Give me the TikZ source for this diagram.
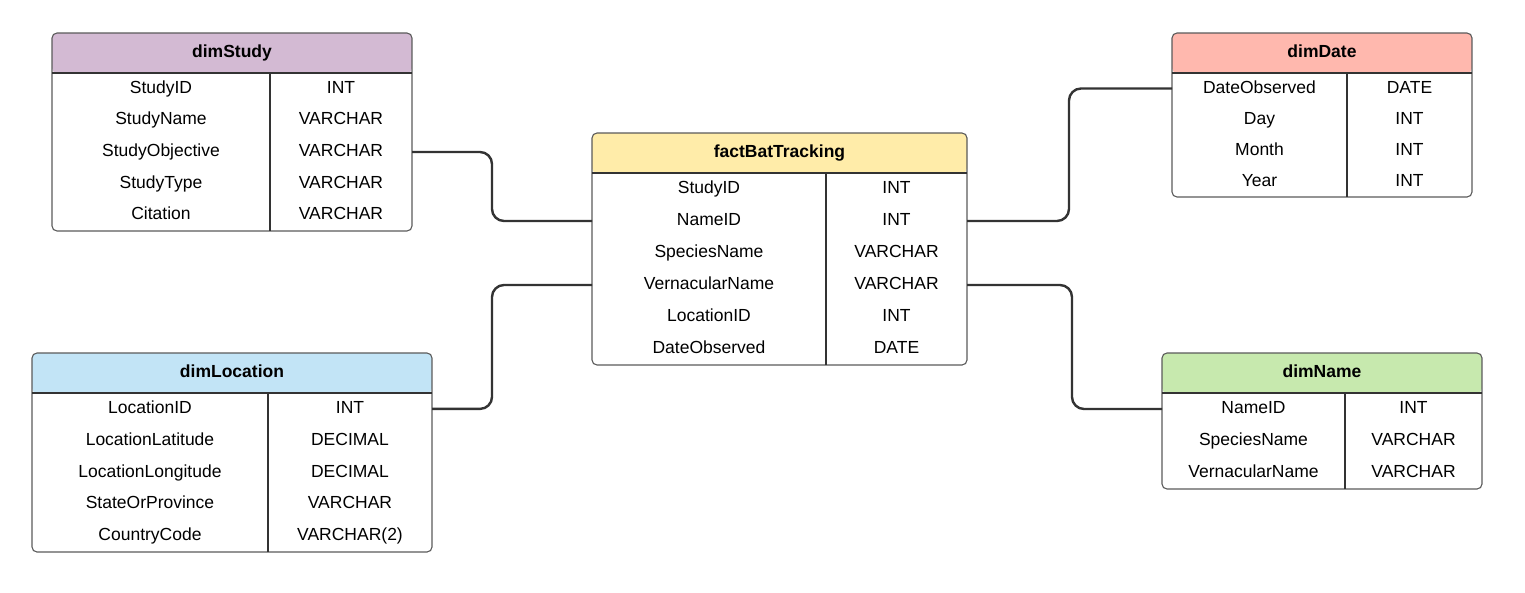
\documentclass[tikz,border=0pt]{standalone}
\usepackage{fontspec}
\setmainfont{Liberation Sans}
\usepackage{xcolor}
\usetikzlibrary{positioning}

\definecolor{studycol}{HTML}{D3BAD3}
\definecolor{datecol}{HTML}{FFB8AE}
\definecolor{factcol}{HTML}{FFECA9}
\definecolor{loccol}{HTML}{C2E4F6}
\definecolor{namecol}{HTML}{C7E9AE}
\definecolor{tblline}{HTML}{5A5A5A}
\definecolor{linkcol}{HTML}{333333}

\begin{document}
\begin{tikzpicture}[x=1pt,y=-1pt,font=\fontsize{17.5}{20}\selectfont]
  \tikzstyle{tbl}=[draw=tblline,line width=1.1pt,rounded corners=5pt,inner sep=0pt,outer sep=0pt,anchor=north west]
  \tikzstyle{cell}=[inner sep=0pt,text height=12.5pt,text depth=3.5pt]
  \tikzstyle{title}=[cell,font=\fontsize{17.5}{20}\selectfont\bfseries]
  \tikzstyle{rule}=[draw=linkcol,line width=1.1pt]
  \tikzstyle{link}=[draw=linkcol,line width=2.4pt,rounded corners=12pt]
  \useasboundingbox (0,0) rectangle (1525,592);

  % dimStudy
  \node[tbl,minimum width=360pt,minimum height=198pt,
    path picture={\fill[studycol] (path picture bounding box.north west) rectangle ([yshift=-40pt]path picture bounding box.north east);}]
    (study) at (52,33) {};
  \draw[rule] (52,73) -- (412,73);
  \draw[rule] (270,73) -- (270,231);
  \node[title] (studyhead) at (232,53) {dimStudy};
  \foreach \f/\t [count=\i] in {StudyID/INT,StudyName/VARCHAR,StudyObjective/VARCHAR,StudyType/VARCHAR,Citation/VARCHAR}{
    \node[cell] (st\i) at (161,{73+31.6*(\i-0.5)}) {\f};
    \node[cell] (stt\i) at (341,{73+31.6*(\i-0.5)}) {\t};
  }

  % factBatTracking
  \node[tbl,minimum width=375pt,minimum height=232pt,
    path picture={\fill[factcol] (path picture bounding box.north west) rectangle ([yshift=-40pt]path picture bounding box.north east);}]
    (fact) at (592,133) {};
  \draw[rule] (592,173) -- (967,173);
  \draw[rule] (826,173) -- (826,365);
  \node[title] (facthead) at (779.5,153) {factBatTracking};
  \foreach \f/\t [count=\i] in {StudyID/INT,NameID/INT,SpeciesName/VARCHAR,VernacularName/VARCHAR,LocationID/INT,DateObserved/DATE}{
    \node[cell] (fa\i) at (709,{173+32*(\i-0.5)}) {\f};
    \node[cell] (fat\i) at (896.5,{173+32*(\i-0.5)}) {\t};
  }

  % dimDate
  \node[tbl,minimum width=300pt,minimum height=164pt,
    path picture={\fill[datecol] (path picture bounding box.north west) rectangle ([yshift=-40pt]path picture bounding box.north east);}]
    (date) at (1172,33) {};
  \draw[rule] (1172,73) -- (1472,73);
  \draw[rule] (1347,73) -- (1347,197);
  \node[title] (datehead) at (1322,53) {dimDate};
  \foreach \f/\t [count=\i] in {DateObserved/DATE,Day/INT,Month/INT,Year/INT}{
    \node[cell] (da\i) at (1259.5,{73+31*(\i-0.5)}) {\f};
    \node[cell] (dat\i) at (1409.5,{73+31*(\i-0.5)}) {\t};
  }

  % dimLocation
  \node[tbl,minimum width=400pt,minimum height=199pt,
    path picture={\fill[loccol] (path picture bounding box.north west) rectangle ([yshift=-40pt]path picture bounding box.north east);}]
    (loc) at (32,353) {};
  \draw[rule] (32,393) -- (432,393);
  \draw[rule] (268,393) -- (268,552);
  \node[title] (lochead) at (232,373) {dimLocation};
  \foreach \f/\t [count=\i] in {LocationID/INT,LocationLatitude/DECIMAL,LocationLongitude/DECIMAL,StateOrProvince/VARCHAR,{CountryCode/VARCHAR(2)}}{
    \node[cell] (lo\i) at (150,{393+31.8*(\i-0.5)}) {\f};
    \node[cell] (lot\i) at (350,{393+31.8*(\i-0.5)}) {\t};
  }

  % dimName
  \node[tbl,minimum width=320pt,minimum height=136pt,
    path picture={\fill[namecol] (path picture bounding box.north west) rectangle ([yshift=-40pt]path picture bounding box.north east);}]
    (name) at (1162,353) {};
  \draw[rule] (1162,393) -- (1482,393);
  \draw[rule] (1345,393) -- (1345,489);
  \node[title] (namehead) at (1322,373) {dimName};
  \foreach \f/\t [count=\i] in {NameID/INT,SpeciesName/VARCHAR,VernacularName/VARCHAR}{
    \node[cell] (na\i) at (1253.5,{393+32*(\i-0.5)}) {\f};
    \node[cell] (nat\i) at (1413.5,{393+32*(\i-0.5)}) {\t};
  }

  % links
  \draw[link] (study.east |- st3) -- ++(80,0) |- (fact.west |- fa2);
  \draw[link] (loc.east |- lo1) -- ++(60,0) |- (fact.west |- fa4);
  \draw[link] (fact.east |- fa2) -- ++(102,0) |- (date.west |- da1);
  \draw[link] (fact.east |- fa4) -- ++(105,0) |- (name.west |- na1);
\end{tikzpicture}
\end{document}
